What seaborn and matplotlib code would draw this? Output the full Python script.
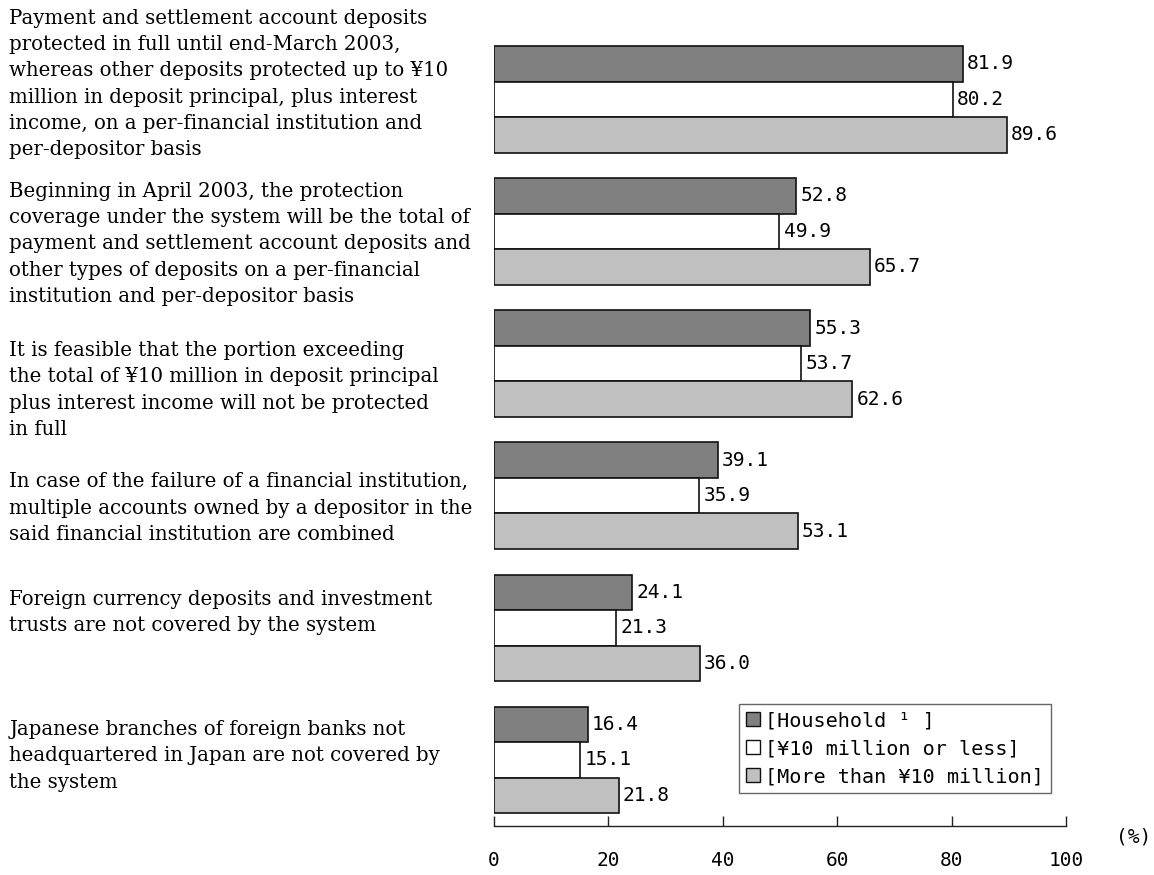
import matplotlib
matplotlib.use("Agg")
import matplotlib.pyplot as plt
from matplotlib.transforms import ScaledTranslation, blended_transform_factory
import pandas as pd
import seaborn as sns

# Survey items (left-hand descriptions)
items = [
    "Payment and settlement account deposits\nprotected in full until end-March 2003,\n"
    "whereas other deposits protected up to ¥10\nmillion in deposit principal, plus interest\n"
    "income, on a per-financial institution and\nper-depositor basis",
    "Beginning in April 2003, the protection\ncoverage under the system will be the total of\n"
    "payment and settlement account deposits and\nother types of deposits on a per-financial\n"
    "institution and per-depositor basis",
    "It is feasible that the portion exceeding\nthe total of ¥10 million in deposit principal\n"
    "plus interest income will not be protected\nin full",
    "In case of the failure of a financial institution,\nmultiple accounts owned by a depositor in the\n"
    "said financial institution are combined",
    "Foreign currency deposits and investment\ntrusts are not covered by the system",
    "Japanese branches of foreign banks not\nheadquartered in Japan are not covered by\nthe system",
]

series = ["[Household ¹ ]", "[¥10 million or less]", "[More than ¥10 million]"]

household = [81.9, 52.8, 55.3, 39.1, 24.1, 16.4]
up_to_10m = [80.2, 49.9, 53.7, 35.9, 21.3, 15.1]
over_10m = [89.6, 65.7, 62.6, 53.1, 36.0, 21.8]

x_ticks = [0, 20, 40, 60, 80, 100]

colors = ["#808080", "#ffffff", "#c0c0c0"]

# vertical nudge of each description block (points, positive = down)
label_nudge_pt = [-11, 9, 19, 9, -11, -3]

MONO = ["DejaVu Sans Mono", "Liberation Mono"]

df = pd.DataFrame({
    "item": items * 3,
    "series": [series[0]] * 6 + [series[1]] * 6 + [series[2]] * 6,
    "value": household + up_to_10m + over_10m,
})

sns.set_theme(style="white")
plt.rcParams["font.family"] = MONO
plt.rcParams["text.color"] = "black"
plt.rcParams["xtick.color"] = "black"

fig = plt.figure(figsize=(11.54, 8.75), dpi=100)
ax = fig.add_axes([0.4281, 0.056, 0.4957, 0.9211])

sns.barplot(
    data=df, y="item", x="value", hue="series",
    order=items, hue_order=series, palette=colors,
    orient="h", width=0.806, edgecolor="#111111", linewidth=1.2,
    legend=False, ax=ax,
)

# value labels on white boxes
for cont in ax.containers:
    ax.bar_label(
        cont, fmt="%.1f", padding=3, fontsize=14, family=MONO, color="black",
        bbox=dict(facecolor="white", edgecolor="none", pad=1.5),
    )

ax.set_xlim(0, 100)
ax.set_ylim(5.5, -0.6)
ax.set_xticks(x_ticks)
ax.set_xticklabels([str(t) for t in x_ticks])
ax.set_yticks([])
ax.set_xlabel("")
ax.set_ylabel("")
sns.despine(ax=ax, left=True, top=True, right=True)
ax.spines["bottom"].set_color("#222222")
ax.spines["bottom"].set_linewidth(1.0)
ax.tick_params(axis="x", bottom=True, direction="in", length=7, width=1.0,
               color="#222222", labelcolor="black", pad=18, labelsize=14)

# descriptions on the left
base = blended_transform_factory(fig.transFigure, ax.transData)
for i, (text, nudge) in enumerate(zip(items, label_nudge_pt)):
    tr = base + ScaledTranslation(0, -nudge / 72, fig.dpi_scale_trans)
    ax.text(0.008, i, text, transform=tr, ha="left", va="center",
            fontsize=14.2, family="DejaVu Serif", linespacing=1.49,
            color="black")

fig.text(0.982, 0.0434, "(%)", ha="center", va="center", fontsize=14,
         family=MONO, color="black")

handles = [plt.Rectangle((0, 0), 1, 1, facecolor=c, edgecolor="#111111",
                         linewidth=1.0) for c in colors]
leg = ax.legend(
    handles, series, loc="upper left",
    bbox_to_anchor=(739 / 1154, 1 - 704 / 875), bbox_transform=fig.transFigure,
    borderaxespad=0, fancybox=False, frameon=True, edgecolor="#404040",
    prop={"family": MONO, "size": 14.5},
    handlelength=0.7, handleheight=0.7, handletextpad=0.25,
    labelspacing=0.45, borderpad=0.35,
)
leg.get_frame().set_linewidth(1.0)
for t in leg.get_texts():
    t.set_color("black")

fig.savefig("out.png", dpi=100)
